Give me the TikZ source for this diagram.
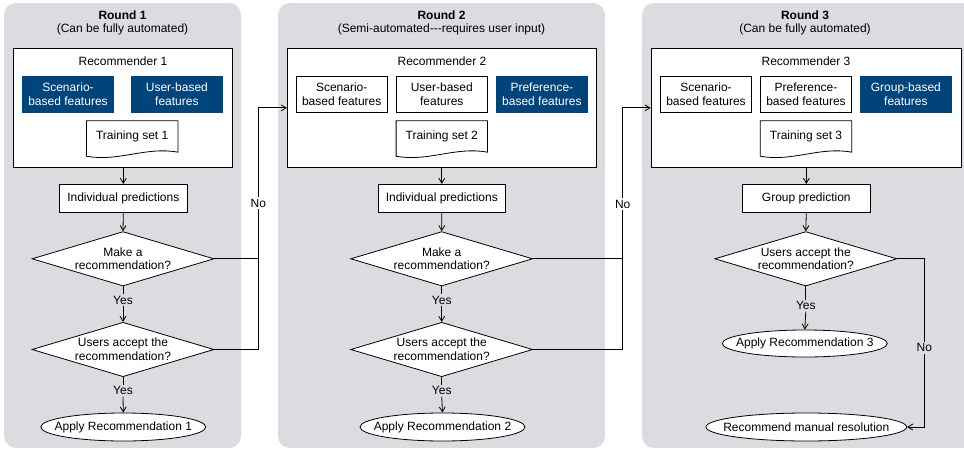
\documentclass[tikz,border=0pt]{standalone}
\usepackage{fontspec}
\setmainfont{Liberation Sans}
\usetikzlibrary{shapes.geometric,arrows.meta,calc}
\definecolor{panelgray}{RGB}{220,220,224}
\definecolor{featblue}{RGB}{0,68,124}
% three literal hyphens, kept apart so they do not form a dash
\newcommand\threehy{-\kern0pt-\kern0pt-}
\begin{document}
\begin{tikzpicture}[x=1pt,y=-1pt,
  font=\fontsize{12}{13.8}\selectfont,
  line/.style={draw=black, line width=0.8pt},
  conn/.style={line, -{Straight Barb[length=5pt,width=6pt]}},
  panel/.style={fill=panelgray, rounded corners=12pt},
  txt/.style={align=center, inner sep=0pt},
  recbox/.style={line, fill=white, minimum height=118.3pt, inner sep=0pt},
  featwhite/.style={line, fill=white, minimum width=91.5pt, minimum height=36.7pt, align=center, inner sep=0pt},
  featdark/.style={fill=featblue, text=white, minimum width=91.5pt, minimum height=36.7pt, align=center, inner sep=0pt},
  trainbox/.style={minimum width=91pt, minimum height=31pt, inner sep=0pt},
  procbox/.style={line, fill=white, minimum width=127.5pt, minimum height=28pt, inner sep=0pt},
  dia/.style={diamond, line, fill=white, minimum width=182pt, minimum height=54.4pt, inner sep=0pt},
  oval/.style={ellipse, line, fill=white, minimum height=28pt, inner sep=0pt},
  flowlabel/.style={inner sep=1.5pt},
]
\clip (0,0) rectangle (964,450);
\useasboundingbox (0,0) rectangle (964,450);

% document outline for a training set node
\newcommand\docoutline[1]{%
  \draw[line, fill=white] (#1.north west) -- (#1.north east) -- (#1.south east)
    .. controls ($(#1.south east)+(-32,-6)$) and ($(#1.south west)+(32,10)$)
    .. ($(#1.south west)+(0,4)$) -- cycle;}

% ---------------- panels ----------------
\fill[panel] (4,3) rectangle (241,448);
\fill[panel] (278,3) rectangle (605,448);
\fill[panel] (642,3) rectangle (990,448);

% ---------------- round 1 ----------------
\node[txt, font=\fontsize{12}{13.8}\selectfont\bfseries] (h1) at (122.5,15) {Round 1};
\node[txt] (s1) at (122.5,29) {(Can be fully automated)};
\node[recbox, minimum width=218.6pt] (r1) at (123,107.85) {};
\node[txt] (rt1) at (123,61.5) {Recommender 1};
\node[featdark] (f11) at (68,94.4) {Scenario-\\based features};
\node[featdark] (f12) at (176.9,94.4) {User-based\\features};
\node[trainbox] (t1) at (132.2,136.5) {};
\docoutline{t1}
\node[txt] (tt1) at (t1) {Training set 1};
\node[procbox] (ip1) at (123.3,198.3) {Individual predictions};
\node[dia] (d1a) at (123,258.8) {};
\node[txt] (dt1a) at (d1a) {Make a\\recommendation?};
\node[dia] (d1b) at (123,349.5) {};
\node[txt] (dt1b) at (d1b) {Users accept the\\recommendation?};
\node[oval, minimum width=165pt] (a1) at (123.3,427) {};
\node[txt] (at1) at (a1) {Apply Recommendation 1};
\node[flowlabel, fill=panelgray] (y1a) at (123,300) {Yes};
\node[flowlabel, fill=panelgray] (y1b) at (123,390.7) {Yes};
\node[flowlabel, fill=white] (no1) at (258.3,203) {No};

\draw[conn] (ip1.north |- r1.south) -- (ip1.north);
\draw[conn] (ip1.south) -- (d1a.north);
\draw[line] (d1a.south) -- (y1a.north);
\draw[conn] (y1a.south) -- (d1b.north);
\draw[line] (d1b.south) -- (y1b.north);
\draw[conn] (y1b.south) -- (a1.north);

% ---------------- round 2 ----------------
\node[txt, font=\fontsize{12}{13.8}\selectfont\bfseries] (h2) at (441.5,15) {Round 2};
\node[txt] (s2) at (441.5,29) {(Semi-automated\threehy requires user input)};
\node[recbox, minimum width=309.4pt] (r2) at (442,107.85) {};
\node[txt] (rt2) at (442,61.5) {Recommender 2};
\node[featwhite] (f21) at (341.7,94.4) {Scenario-\\based features};
\node[featwhite] (f22) at (441.8,94.4) {User-based\\features};
\node[featdark] (f23) at (541.9,94.4) {Preference-\\based features};
\node[trainbox] (t2) at (441.8,136.5) {};
\docoutline{t2}
\node[txt] (tt2) at (t2) {Training set 2};
\node[procbox] (ip2) at (441.8,198.3) {Individual predictions};
\node[dia] (d2a) at (441.7,258.8) {};
\node[txt] (dt2a) at (d2a) {Make a\\recommendation?};
\node[dia] (d2b) at (441.7,349.5) {};
\node[txt] (dt2b) at (d2b) {Users accept the\\recommendation?};
\node[oval, minimum width=165pt] (a2) at (442.5,427) {};
\node[txt] (at2) at (a2) {Apply Recommendation 2};
\node[flowlabel, fill=panelgray] (y2a) at (441.7,300) {Yes};
\node[flowlabel, fill=panelgray] (y2b) at (441.7,390.7) {Yes};
\node[flowlabel, fill=white] (no2) at (622.7,204) {No};

\draw[conn] (ip2.north |- r2.south) -- (ip2.north);
\draw[conn] (ip2.south) -- (d2a.north);
\draw[line] (d2a.south) -- (y2a.north);
\draw[conn] (y2a.south) -- (d2b.north);
\draw[line] (d2b.south) -- (y2b.north);
\draw[conn] (y2b.south) -- (a2.north);

% ---------------- round 3 ----------------
\node[txt, font=\fontsize{12}{13.8}\selectfont\bfseries] (h3) at (805,15) {Round 3};
\node[txt] (s3) at (805,29) {(Can be fully automated)};
\node[recbox, minimum width=310pt] (r3) at (806,107.85) {};
\node[txt] (rt3) at (806,61.5) {Recommender 3};
\node[featwhite] (f31) at (706,94.4) {Scenario-\\based features};
\node[featwhite] (f32) at (806,94.4) {Preference-\\based features};
\node[featdark] (f33) at (905.9,94.4) {Group-based\\features};
\node[trainbox] (t3) at (806,136.5) {};
\docoutline{t3}
\node[txt] (tt3) at (t3) {Training set 3};
\node[procbox] (ip3) at (806.3,198.3) {Group prediction};
\node[dia] (d3) at (805.8,258.8) {};
\node[txt] (dt3) at (d3) {Users accept the\\recommendation?};
\node[oval, minimum width=165pt, minimum height=27pt] (a3) at (804.8,343.5) {};
\node[txt] (at3) at (a3) {Apply Recommendation 3};
\node[oval, minimum width=200.7pt] (m3) at (806.3,427) {};
\node[txt] (mt3) at (m3) {Recommend manual resolution};
\node[flowlabel, fill=panelgray] (y3) at (805.8,305.7) {Yes};
\node[flowlabel, fill=panelgray] (no3) at (924.3,347.7) {No};

\draw[conn] (ip3.north |- r3.south) -- (ip3.north);
\draw[conn] (ip3.south) -- (d3.north);
\draw[line] (d3.south) -- (y3.north);
\draw[conn] (y3.south) -- (a3.north);

% ---------------- "No" branches ----------------
\draw[line] (d1a.east) -| (no1.south);
\draw[line] (d1b.east) -| (no1.south);
\draw[conn] (no1.north) |- (r2.west);

\draw[line] (d2a.east) -| (no2.south);
\draw[line] (d2b.east) -| (no2.south);
\draw[conn] (no2.north) |- (r3.west);

\draw[line] (d3.east) -| (no3.north);
\draw[conn] (no3.south) |- (m3.east);
\end{tikzpicture}
\end{document}
